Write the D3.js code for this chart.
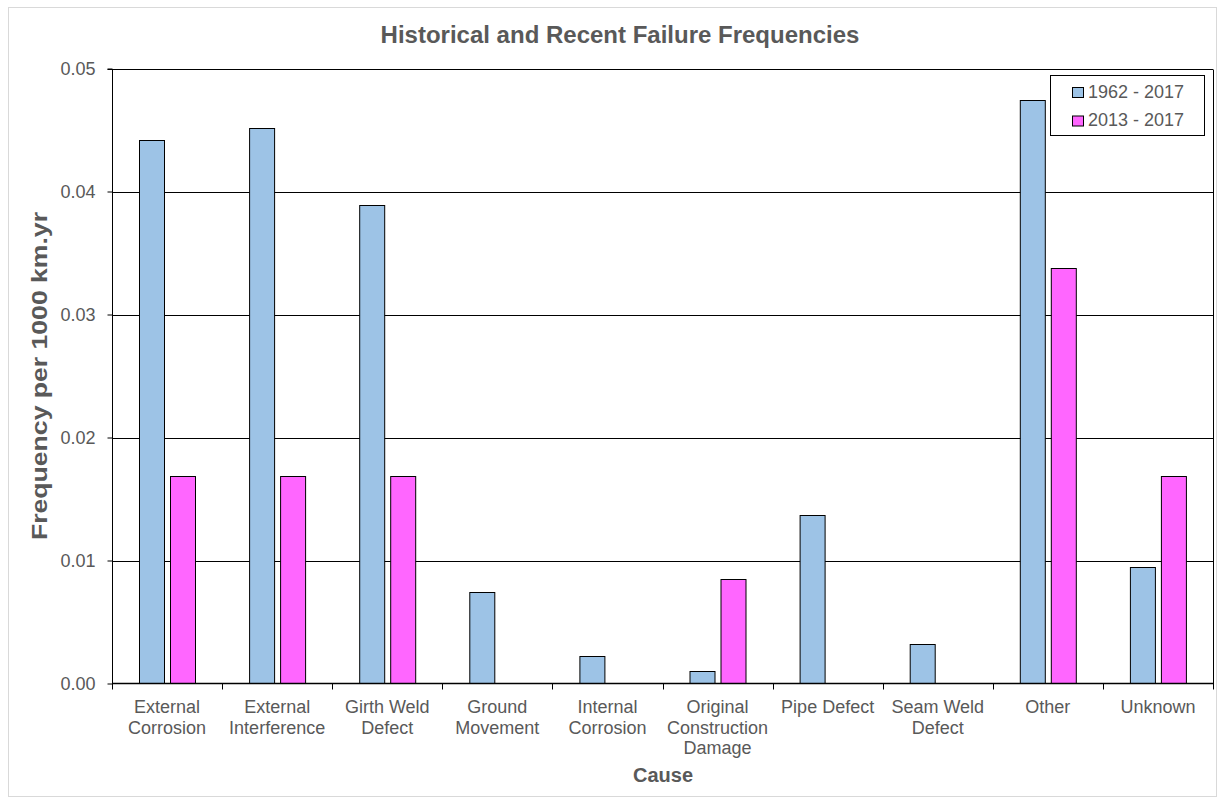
<!DOCTYPE html>
<html>
<head>
<meta charset="utf-8">
<script src="https://cdn.jsdelivr.net/npm/d3@7"></script>
<style>
  html, body { margin: 0; padding: 0; background: #fff; }
  svg { display: block; font-family: "Liberation Sans", Arial, sans-serif; }
</style>
</head>
<body>
<svg id="chart" width="1221" height="801"></svg>
<script>
// Failure causes (x-axis categories), each label split into display lines
const causes = [
  "External Corrosion", "External Interference", "Girth Weld Defect",
  "Ground Movement", "Internal Corrosion", "Original Construction Damage",
  "Pipe Defect", "Seam Weld Defect", "Other", "Unknown"
];
const causeLines = [
  ["External", "Corrosion"], ["External", "Interference"], ["Girth Weld", "Defect"],
  ["Ground", "Movement"], ["Internal", "Corrosion"], ["Original", "Construction", "Damage"],
  ["Pipe Defect"], ["Seam Weld", "Defect"], ["Other"], ["Unknown"]
];
const seriesNames = ["1962 - 2017", "2013 - 2017"];
// Failure frequency per 1000 km.yr
const historical = [0.0442, 0.0452, 0.0389, 0.0074, 0.0022, 0.0010, 0.0137, 0.0032, 0.0474, 0.0095];
const recent     = [0.0169, 0.0169, 0.0169, 0, 0, 0.0085, 0, 0, 0.0338, 0.0169];
const yTicks = [0, 0.01, 0.02, 0.03, 0.04, 0.05];

const colors = ["#9DC3E6", "#FF66FF"];
const textColor = "#595959";

const svg = d3.select("#chart");
const margin = { left: 112, right: 1213, top: 68.5, bottom: 683.5 };

// Outer chart frame
svg.append("rect")
  .attr("x", 8.5).attr("y", 7.5).attr("width", 1208).attr("height", 789)
  .attr("fill", "#fff").attr("stroke", "#d9d9d9").attr("stroke-width", 1);

const x = d3.scaleBand().domain(causes).range([margin.left, margin.right]).paddingInner(0).paddingOuter(0);
const y = d3.scaleLinear().domain([0, 0.05]).range([margin.bottom, margin.top]);

// Bar sub-positions inside each band
const sub = d3.scaleBand().domain(seriesNames).range([0, x.bandwidth()]).paddingInner(0.2).paddingOuter(0.85);

// Gridlines
svg.append("g").selectAll("line").data(yTicks.filter(d => d > 0)).join("line")
  .attr("x1", margin.left).attr("x2", margin.right)
  .attr("y1", d => Math.round(y(d)) + 0.5).attr("y2", d => Math.round(y(d)) + 0.5)
  .attr("stroke", "#000").attr("stroke-width", 1);

// Right border of the plot area
svg.append("line")
  .attr("x1", margin.right + 0.5).attr("x2", margin.right + 0.5)
  .attr("y1", Math.round(y(0.05)) + 0.5).attr("y2", y(0))
  .attr("stroke", "#000");

// Bars
const data = causes.map((c, i) => ({ cause: c, values: [historical[i], recent[i]] }));
const groups = svg.append("g").selectAll("g").data(data).join("g")
  .attr("transform", d => `translate(${x(d.cause)},0)`);
groups.selectAll("rect")
  .data(d => d.values.map((v, k) => ({ v, k })).filter(e => e.v > 0))
  .join("rect")
  .attr("x", e => Math.round(sub(seriesNames[e.k])) + 0.5)
  .attr("width", Math.round(sub.bandwidth()))
  .attr("y", e => Math.round(y(e.v)) + 0.5)
  .attr("height", e => y(0) - Math.round(y(e.v)) - 0.5)
  .attr("fill", e => colors[e.k])
  .attr("stroke", "#000").attr("stroke-width", 1);

// Y axis
const yAxis = d3.axisLeft(y).tickValues(yTicks).tickFormat(d3.format(".2f")).tickSize(5).tickPadding(12);
const gy = svg.append("g").attr("transform", `translate(${margin.left + 0.5},0)`).call(yAxis);
gy.select(".domain").attr("stroke", "#000").attr("d", `M-5,${Math.round(y(0.05)) + 0.5}H0V${y(0)}`);
gy.selectAll(".tick line").attr("stroke", "#000");
gy.selectAll(".tick text").attr("fill", textColor).style("font-size", "18px")
  .style("font-family", "'Liberation Sans', Arial, sans-serif");

// X axis: ticks at band boundaries
const gx = svg.append("g").attr("transform", `translate(0,${margin.bottom})`);
gx.append("line").attr("x1", margin.left).attr("x2", margin.right + 1)
  .attr("stroke", "#000").attr("stroke-width", 1.5);
const boundaries = causes.map(c => x(c)).concat([margin.right]);
gx.selectAll("line.tick").data(boundaries).join("line").attr("class", "tick")
  .attr("x1", d => Math.round(d) + 0.5).attr("x2", d => Math.round(d) + 0.5)
  .attr("y1", 0).attr("y2", 6).attr("stroke", "#000");

// Category labels
const labels = svg.append("g").selectAll("text").data(causes).join("text")
  .attr("x", d => x(d) + x.bandwidth() / 2)
  .attr("y", 713)
  .attr("text-anchor", "middle")
  .attr("fill", textColor)
  .style("font-size", "18px");
labels.each(function(d, i) {
  const t = d3.select(this);
  causeLines[i].forEach((line, j) => {
    t.append("tspan").attr("x", x(d) + x.bandwidth() / 2).attr("dy", j === 0 ? 0 : 20.7).text(line);
  });
});

// Title
svg.append("text")
  .attr("x", 620).attr("y", 43)
  .attr("text-anchor", "middle")
  .attr("fill", textColor)
  .style("font-size", "24px").style("font-weight", "bold")
  .text("Historical and Recent Failure Frequencies");

// Axis titles
svg.append("text")
  .attr("transform", `translate(47,376) rotate(-90)`)
  .attr("text-anchor", "middle")
  .attr("fill", textColor)
  .attr("textLength", 328).attr("lengthAdjust", "spacingAndGlyphs")
  .style("font-size", "22px").style("font-weight", "bold")
  .text("Frequency per 1000 km.yr");

svg.append("text")
  .attr("x", 663).attr("y", 782)
  .attr("text-anchor", "middle")
  .attr("fill", textColor)
  .style("font-size", "20px").style("font-weight", "bold")
  .text("Cause");

// Legend
const legend = svg.append("g");
legend.append("rect")
  .attr("x", 1050.5).attr("y", 75.5).attr("width", 154).attr("height", 60)
  .attr("fill", "#fff").attr("stroke", "#000");
seriesNames.forEach((name, k) => {
  const base = 97.5 + k * 28.5;
  legend.append("rect")
    .attr("x", 1072.5).attr("y", base - 10).attr("width", 11).attr("height", 10)
    .attr("fill", colors[k]).attr("stroke", "#000");
  legend.append("text")
    .attr("x", 1088).attr("y", base)
    .attr("fill", textColor)
    .style("font-size", "18px")
    .text(name);
});
</script>
</body>
</html>
